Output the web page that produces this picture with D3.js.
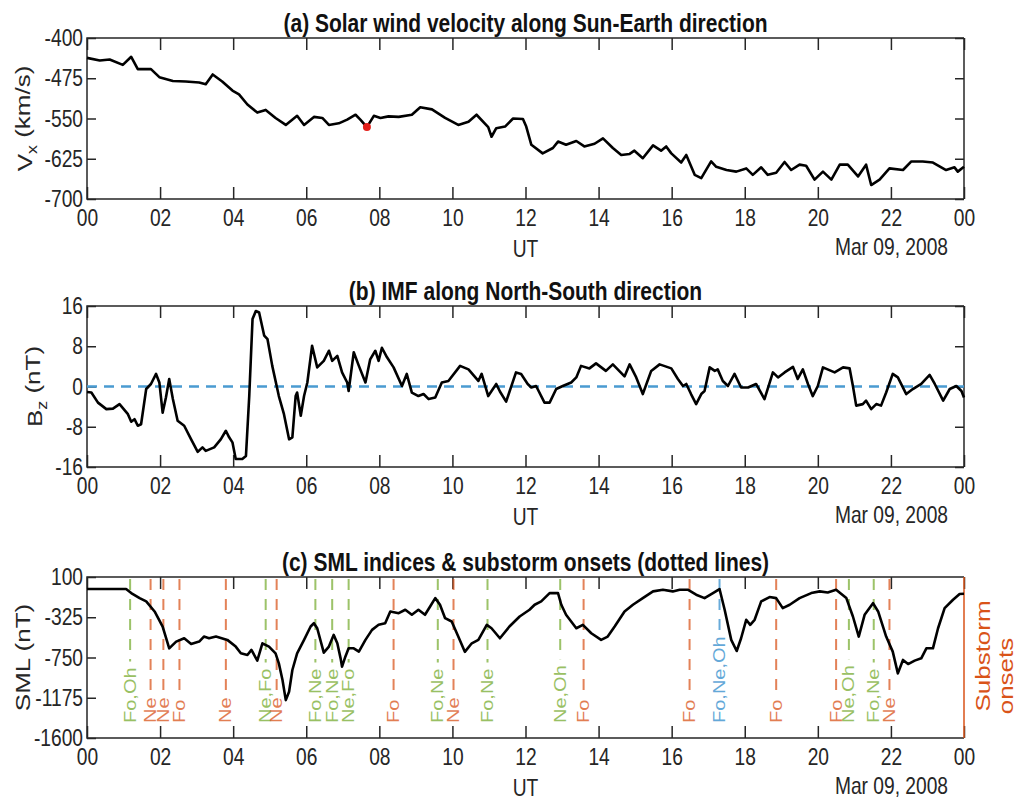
<!DOCTYPE html>
<html>
<head>
<meta charset="utf-8">
<script src="https://cdn.jsdelivr.net/npm/d3@7"></script>
<style>body{margin:0;background:#fff}</style>
</head>
<body>
<svg id="fig" width="1019" height="801"></svg>
<script>
// panel (a) solar wind Vx
var vxHours = [0, 0.35, 0.62, 0.98, 1.21, 1.39, 1.75, 1.98, 2.35, 2.7, 3.07, 3.25, 3.44, 3.7, 3.98, 4.16, 4.39, 4.66, 4.89, 5.16, 5.44, 5.75, 5.94, 6.21, 6.44, 6.62, 6.89, 7.12, 7.35, 7.48, 7.66, 7.85, 8.03, 8.25, 8.53, 8.89, 9.12, 9.44, 9.8, 10.16, 10.44, 10.66, 10.98, 11.07, 11.2, 11.44, 11.66, 11.93, 12.02, 12.16, 12.47, 12.75, 12.89, 13.11, 13.39, 13.61, 13.89, 14.12, 14.39, 14.62, 14.85, 14.98, 15.21, 15.49, 15.71, 15.85, 15.99, 16.26, 16.4, 16.63, 16.81, 17.08, 17.22, 17.5, 17.77, 18.04, 18.22, 18.45, 18.63, 18.86, 19.09, 19.27, 19.5, 19.68, 19.91, 20.14, 20.37, 20.6, 20.82, 21.1, 21.32, 21.46, 21.69, 21.96, 22.33, 22.56, 22.87, 23.15, 23.51, 23.74, 23.83, 24];
var vxValues = [-437, -442, -440, -450, -435, -458, -458, -473, -480, -481, -483, -486, -468, -481, -498, -505, -524, -539, -534, -549, -562, -545, -562, -547, -549, -562, -559, -552, -543, -552, -566, -545, -549, -546, -547, -543, -529, -533, -549, -562, -556, -543, -566, -584, -568, -565, -550, -551, -565, -599, -615, -605, -593, -599, -592, -602, -597, -587, -605, -618, -616, -610, -624, -600, -610, -602, -615, -632, -618, -655, -661, -630, -640, -646, -649, -643, -655, -641, -655, -651, -631, -646, -636, -638, -664, -649, -664, -636, -636, -658, -636, -674, -664, -643, -646, -630, -630, -632, -646, -641, -649, -640];
var markHour = 7.66, markValue = -566;

// panel (b) IMF Bz
var bzHours = [0, 0.12, 0.3, 0.53, 0.71, 0.89, 1.12, 1.21, 1.3, 1.39, 1.48, 1.62, 1.75, 1.89, 1.98, 2.07, 2.16, 2.25, 2.35, 2.48, 2.66, 2.85, 3.03, 3.16, 3.25, 3.48, 3.66, 3.8, 3.89, 3.98, 4.07, 4.25, 4.35, 4.44, 4.53, 4.62, 4.71, 4.85, 4.94, 5.07, 5.25, 5.39, 5.53, 5.62, 5.71, 5.75, 5.85, 5.94, 6.03, 6.16, 6.3, 6.48, 6.62, 6.71, 6.85, 6.98, 7.12, 7.16, 7.3, 7.44, 7.62, 7.75, 7.89, 7.98, 8.07, 8.21, 8.39, 8.62, 8.75, 8.89, 9.07, 9.21, 9.35, 9.53, 9.71, 9.89, 10.21, 10.44, 10.71, 10.8, 10.98, 11.2, 11.3, 11.47, 11.74, 11.88, 12.06, 12.16, 12.29, 12.52, 12.66, 12.84, 13.02, 13.25, 13.39, 13.52, 13.75, 13.93, 14.2, 14.39, 14.71, 14.85, 15.03, 15.21, 15.44, 15.67, 15.99, 16.17, 16.31, 16.4, 16.53, 16.67, 16.81, 16.9, 17.04, 17.18, 17.26, 17.4, 17.54, 17.72, 17.9, 18.09, 18.31, 18.54, 18.77, 18.91, 19.09, 19.32, 19.45, 19.59, 19.73, 19.86, 20.0, 20.14, 20.46, 20.69, 20.87, 20.96, 21.05, 21.23, 21.32, 21.46, 21.6, 21.73, 21.87, 22.05, 22.19, 22.42, 22.6, 22.83, 23.06, 23.2, 23.43, 23.61, 23.79, 23.93, 24];
var bzValues = [-1.1, -1.2, -3.2, -4.5, -4.4, -3.5, -5.5, -7.0, -6.5, -7.8, -7.5, -0.5, 0.5, 2.5, 0.8, -5.2, -2.2, 1.5, -2.5, -6.8, -7.8, -10.5, -13, -12.1, -12.8, -12.1, -10.5, -8.8, -10.1, -11.1, -14.4, -14.4, -13.8, -1.9, 13.4, 15.0, 14.7, 10.1, 9.4, 4.1, -1.9, -5.5, -10.5, -10.1, -1.9, -1.2, -5.8, -1.9, 0.8, 8.1, 3.8, 5.1, 7.1, 5.1, 6.1, 2.8, 0.8, -0.9, 6.8, 4.1, 0.8, 5.4, 7.1, 5.1, 7.7, 5.8, 3.8, 0.1, 2.5, -1.2, -1.9, -1.5, -2.5, -2.2, 0.8, 1.1, 4.1, 3.4, 1.1, 2.5, -1.9, 0.5, -1.0, -3.0, 2.8, 2.5, 0.5, -0.2, 0.1, -3.2, -3.2, -0.5, 0.1, 0.8, 1.8, 4.1, 3.6, 4.6, 3.1, 4.4, 2.0, 4.4, 1.8, -1.5, 3.1, 4.4, 3.6, 1.5, 0.1, 0.5, -1.5, -3.5, -1.5, -0.9, 3.8, 3.1, 3.4, 1.1, 0.1, 2.5, -0.2, -0.2, 0.5, -2.5, 2.8, 1.8, 2.8, 3.9, 1.5, 3.4, 0.5, -1.9, 0.1, 3.8, 2.8, 3.8, 3.6, 0.1, -3.8, -3.5, -2.8, -4.5, -3.5, -3.8, -1.2, 2.5, 1.8, -1.5, -0.5, 0.5, 2.3, 0.5, -2.8, -0.5, 0.1, -0.9, -2.2];

// panel (c) SML index
var smlHours = [0, 1.07, 1.21, 1.44, 1.62, 1.85, 2.07, 2.25, 2.44, 2.66, 2.85, 3.07, 3.2, 3.34, 3.53, 3.84, 4.07, 4.21, 4.39, 4.5, 4.66, 4.8, 4.98, 5.16, 5.25, 5.35, 5.44, 5.53, 5.62, 5.75, 5.94, 6.12, 6.21, 6.3, 6.48, 6.62, 6.75, 6.85, 6.94, 6.98, 7.07, 7.16, 7.3, 7.44, 7.62, 7.8, 7.98, 8.16, 8.3, 8.53, 8.71, 8.89, 9.07, 9.25, 9.39, 9.53, 9.66, 9.8, 9.98, 10.16, 10.34, 10.53, 10.71, 10.94, 11.07, 11.3, 11.56, 11.84, 12.11, 12.25, 12.43, 12.66, 12.89, 12.98, 13.11, 13.39, 13.57, 13.8, 14.07, 14.25, 14.44, 14.71, 14.94, 15.21, 15.49, 15.76, 16.03, 16.22, 16.44, 16.67, 16.9, 17.13, 17.31, 17.45, 17.63, 17.78, 17.9, 18.04, 18.15, 18.27, 18.45, 18.68, 18.86, 19.04, 19.23, 19.5, 19.82, 20.05, 20.27, 20.5, 20.78, 20.96, 21.12, 21.28, 21.51, 21.65, 21.87, 22.05, 22.19, 22.33, 22.47, 22.65, 22.83, 22.97, 23.15, 23.29, 23.47, 23.7, 23.88, 24];
var smlValues = [-27, -27, -70, -123, -158, -264, -423, -653, -582, -547, -607, -582, -529, -547, -529, -564, -635, -706, -723, -670, -783, -600, -635, -706, -812, -988, -1200, -1112, -882, -706, -564, -423, -388, -441, -699, -635, -511, -600, -759, -847, -741, -653, -653, -688, -564, -458, -405, -388, -264, -282, -246, -299, -246, -299, -211, -123, -193, -335, -370, -529, -690, -600, -564, -405, -441, -547, -423, -317, -246, -193, -158, -70, -70, -193, -299, -441, -405, -494, -564, -529, -423, -264, -193, -123, -52, -34, -52, -34, -34, -87, -123, -70, -27, -246, -564, -681, -547, -352, -405, -352, -158, -112, -123, -229, -193, -123, -70, -52, -63, -34, -123, -317, -529, -299, -176, -264, -529, -688, -918, -776, -819, -783, -759, -653, -653, -441, -229, -140, -80, -77];

// substorm onsets
var onsetHours = [1.18, 1.74, 2.09, 2.53, 3.8, 4.89, 5.19, 6.25, 6.71, 7.16, 8.39, 9.6, 10.03, 10.96, 12.95, 13.59, 16.49, 17.31, 18.86, 20.5, 20.85, 21.53, 21.96];
var onsetLabels = ['Fo,Oh', 'Ne', 'Ne', 'Fo', 'Ne', 'Ne,Fo', 'Ne', 'Fo,Ne', 'Fo,Ne', 'Ne,Fo', 'Fo', 'Fo,Ne', 'Ne', 'Fo,Ne', 'Ne,Oh', 'Fo', 'Fo', 'Fo,Ne,Oh', 'Fo', 'Fo', 'Ne,Oh', 'Fo,Ne', 'Ne'];
var onsetKinds = ['g', 'o', 'o', 'o', 'o', 'g', 'o', 'g', 'g', 'g', 'o', 'g', 'o', 'g', 'g', 'o', 'o', 'b', 'o', 'o', 'g', 'g', 'o'];

var hourTicks = [0, 2, 4, 6, 8, 10, 12, 14, 16, 18, 20, 22, 24];
var vxTicks = [-700, -625, -550, -475, -400];
var bzTicks = [-16, -8, 0, 8, 16];
var smlTicks = [-1600, -1175, -750, -325, 100];

var kindColor = { g: '#77ac30', o: '#d95319', b: '#2f8ccc' };
var FONT = '"Liberation Sans", Arial, sans-serif';
var SQ = 0.8;   // the figure is squeezed horizontally
var axisCol = '#262626';

var svg = d3.select('#fig');
var left = 87, right = 964, panelH = 161;
var x = d3.scaleLinear().domain([0, 24]).range([left, right]);
var mid = (left + right) / 2;

function addText(g, str, px, py, size, rot, sq) {
    var t = g.append('text')
        .attr('transform', `translate(${px},${py}) scale(${sq || SQ},1)` + (rot ? ' rotate(-90)' : ''))
        .attr('font-family', FONT)
        .attr('font-size', size)
        .attr('fill', axisCol)
        .text(str);
    return t;
}

function buildPanel(top, yDomain, yTicks, title, opts) {
    var bottom = top + panelH;
    var g = svg.append('g');
    var y = d3.scaleLinear().domain(yDomain).range([bottom, top]);

    var xb = g.append('g').attr('transform', `translate(0,${bottom})`)
        .call(d3.axisBottom(x).tickValues(hourTicks).tickSizeInner(-12).tickSizeOuter(0).tickPadding(10)
            .tickFormat(d => d3.format('02d')(d % 24)));
    g.append('g').attr('transform', `translate(0,${top})`)
        .call(d3.axisTop(x).tickValues(hourTicks).tickSizeInner(-12).tickSizeOuter(0).tickFormat(''));
    var yl = g.append('g').attr('transform', `translate(${left},0)`)
        .call(d3.axisLeft(y).tickValues(yTicks).tickSizeInner(-9).tickSizeOuter(0).tickPadding(5)
            .tickFormat(d => String(d)));
    if (!opts.noRightTicks) {
        g.append('g').attr('transform', `translate(${right},0)`)
            .call(d3.axisRight(y).tickValues(yTicks).tickSizeInner(-9).tickSizeOuter(0).tickFormat(''));
    }
    g.selectAll('.domain').remove();
    g.selectAll('.tick line').attr('stroke', axisCol).attr('stroke-width', 1.5);
    [xb, yl].forEach(a => a.selectAll('text')
        .attr('transform', `scale(${SQ},1)`)
        .attr('font-family', FONT).attr('font-size', 24).attr('fill', axisCol));

    // box
    g.append('path').attr('d', `M${right},${top}H${left}V${bottom}H${right}`)
        .attr('fill', 'none').attr('stroke', axisCol).attr('stroke-width', 1.5);
    g.append('line').attr('x1', right).attr('x2', right).attr('y1', top).attr('y2', bottom)
        .attr('stroke', opts.rightColor || axisCol).attr('stroke-width', 1.5);

    addText(g, title, mid, top - 6, 25, false, 0.84).attr('font-weight', 'bold').attr('text-anchor', 'middle').attr('fill', '#111');
    addText(g, 'UT', mid, bottom + 58, 24).attr('text-anchor', 'middle');
    addText(g, 'Mar 09, 2008', 948, bottom + 56, 24).attr('text-anchor', 'end');
    return { g: g, y: y, top: top, bottom: bottom };
}

function drawLine(p, hours, vals) {
    var line = d3.line().x((d, i) => x(hours[i])).y(d => p.y(d));
    p.g.append('path').datum(vals).attr('d', line)
        .attr('fill', 'none').attr('stroke', '#000').attr('stroke-width', 2.6)
        .attr('stroke-linejoin', 'round');
}

function yLabel(p, base, sub, rest, px) {
    var t = addText(p.g, base, px, (p.top + p.bottom) / 2, 26, true).attr('text-anchor', 'middle');
    if (sub) {
        t.append('tspan').attr('font-size', 18).attr('dy', '0.35em').text(sub);
        t.append('tspan').attr('dy', '-0.35em').text(rest);
    }
}

// (a)
var pa = buildPanel(38, [-700, -400], vxTicks, '(a) Solar wind velocity along Sun-Earth direction', {});
drawLine(pa, vxHours, vxValues);
pa.g.append('circle').attr('cx', x(markHour)).attr('cy', pa.y(markValue)).attr('r', 4).attr('fill', '#e3201b');
yLabel(pa, 'V', 'x', ' (km/s)', 32);

// (b)
var pb = buildPanel(306, [-16, 16], bzTicks, '(b) IMF along North-South direction', {});
pb.g.append('line').attr('x1', left).attr('x2', right).attr('y1', pb.y(0)).attr('y2', pb.y(0))
    .attr('stroke', '#4a9bd1').attr('stroke-width', 2.5).attr('stroke-dasharray', '10,7');
drawLine(pb, bzHours, bzValues);
yLabel(pb, 'B', 'z', ' (nT)', 42);

// (c)
var pc = buildPanel(577, [-1600, 100], smlTicks, '(c) SML indices & substorm onsets (dotted lines)',
    { noRightTicks: true, rightColor: '#d95319' });
var labelBase = 723;
onsetHours.forEach(function (h, i) {
    var col = kindColor[onsetKinds[i]];
    var t = addText(pc.g, onsetLabels[i], x(h), labelBase, 20, true)
        .attr('fill', col).attr('dy', '0.35em').attr('opacity', 0.75);
    var len = t.node().getComputedTextLength();
    pc.g.append('line').attr('x1', x(h)).attr('x2', x(h))
        .attr('y1', pc.top + 2).attr('y2', labelBase - len - 6)
        .attr('stroke', col).attr('stroke-width', 2).attr('opacity', 0.72)
        .attr('stroke-dasharray', '11,9');
});
drawLine(pc, smlHours, smlValues);
yLabel(pc, 'SML (nT)', null, null, 30);
addText(pc.g, 'Substorm', 990, 656, 26, true).attr('text-anchor', 'middle').attr('fill', '#d95319');
addText(pc.g, 'onsets', 1013, 676, 26, true).attr('text-anchor', 'middle').attr('fill', '#d95319');
</script>
</body>
</html>
